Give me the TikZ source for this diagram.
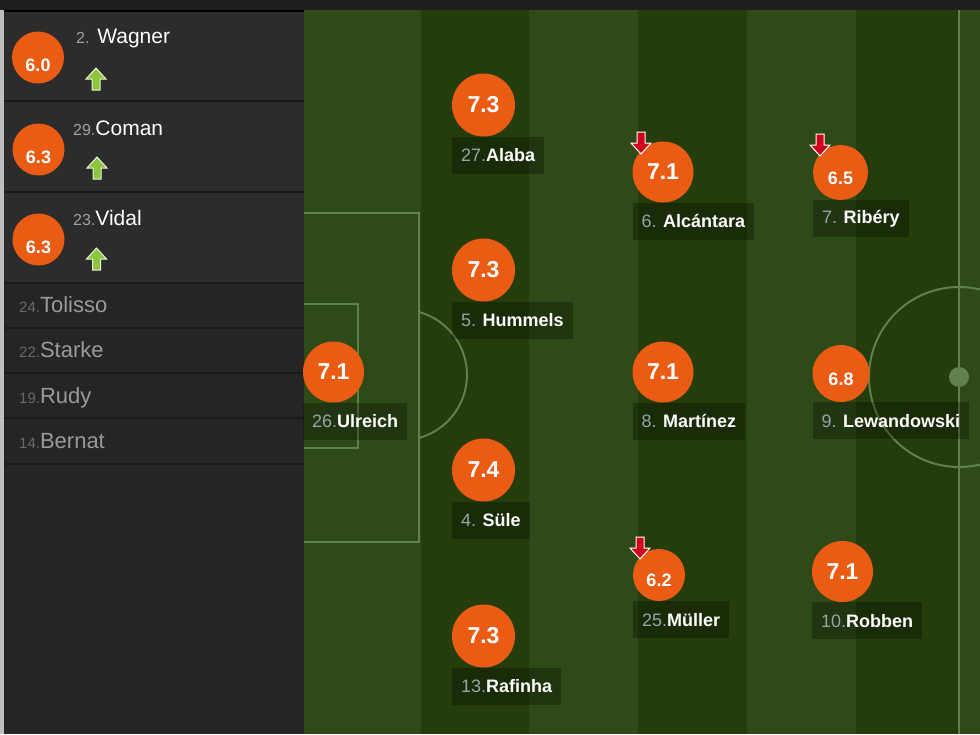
\documentclass[tikz,border=0pt]{standalone}
\usepackage{fontspec}
\setmainfont{Liberation Sans}
\usetikzlibrary{positioning}

\definecolor{topbar}{HTML}{1F1F1F}
\definecolor{panel}{HTML}{252525}
\definecolor{panelhi}{HTML}{2C2C2C}
\definecolor{rowline}{HTML}{1A1A1A}
\definecolor{grasslight}{HTML}{2E4A18}
\definecolor{grassdark}{HTML}{243D0B}
\definecolor{chalk}{HTML}{62804C}
\definecolor{rating}{HTML}{EA5B13}
\definecolor{numgray}{HTML}{9AA3A8}
\definecolor{benchname}{HTML}{9A9A9A}
\definecolor{benchnum}{HTML}{6A6A6A}
\definecolor{subred}{HTML}{D0021B}
\definecolor{subgreen}{HTML}{8CC63F}

\newcommand{\pnum}[1]{{\mdseries\color{numgray}#1}}
\newcommand{\bnum}[1]{{\fontsize{15}{15}\selectfont\color{benchnum}#1}}
% substitution arrows, drawn round a named coordinate
\newcommand{\subout}[1]{%
  \fill[subred,draw=white,line width=1pt,shift={(#1)}]
    (-4,-11) -- (4,-11) -- (4,0) -- (10,0) -- (0,11) -- (-10,0) -- (-4,0) -- cycle;}
\newcommand{\subin}[1]{%
  \fill[subgreen,draw=white!80!subgreen,line width=1pt,shift={(#1)}]
    (-4,11) -- (4,11) -- (4,0) -- (10,0) -- (0,-11) -- (-10,0) -- (-4,0) -- cycle;}

\begin{document}
\begin{tikzpicture}[x=1pt,y=-1pt,
  rate/.style={circle,fill=rating,text=white,inner sep=0pt,minimum size=61pt,
    font=\fontsize{23}{23}\selectfont\bfseries},
  ratesmall/.style={rate,minimum size=55pt,font=\fontsize{18}{18}\selectfont\bfseries,
    text height=23pt,text depth=0pt},
  ratebench/.style={ratesmall,minimum size=52pt,text height=28pt},
  tag/.style={anchor=north west,fill=black,fill opacity=0.28,text opacity=1,text=white,
    inner xsep=9pt,inner ysep=0pt,minimum height=37pt,font=\fontsize{18}{18}\selectfont\bfseries},
  subname/.style={anchor=base west,inner sep=0pt,text=white,font=\fontsize{21}{21}\selectfont},
  benchname/.style={anchor=base west,inner sep=0pt,text=benchname,font=\fontsize{22}{22}\selectfont},
  line/.style={chalk,line width=2pt}]
\useasboundingbox (0,0) rectangle (980,734);

% panel
\fill[topbar] (0,0) rectangle (980,10);
\fill[panel] (0,10) rectangle (304,734);
\fill[panelhi] (4,12) rectangle (304,283);
\fill[black] (0,10) rectangle (304,12);
\fill[white!75!black] (0,10) rectangle (4,734);
\draw[rowline,line width=2pt] (4,101) -- (304,101);
\draw[rowline,line width=2pt] (4,192) -- (304,192);
\draw[rowline,line width=2pt] (4,283) -- (304,283);
\draw[rowline,line width=1.5pt] (4,328) -- (304,328);
\draw[rowline,line width=1.5pt] (4,373) -- (304,373);
\draw[rowline,line width=1.5pt] (4,418) -- (304,418);
\draw[rowline,line width=1.5pt] (4,464) -- (304,464);

% pitch
\fill[grasslight] (304,10) rectangle (980,734);
\fill[grassdark] (421,10) rectangle (529,734);
\fill[grassdark] (638,10) rectangle (747,734);
\fill[grassdark] (856,10) rectangle (959,734);
\draw[line] (304,213) -- (419,213) -- (419,542) -- (304,542);
\draw[line] (304,304) -- (358,304) -- (358,448) -- (304,448);
\draw[line] (419,312) arc[start angle=74.6,end angle=-74.6,radius=65.3pt];
\draw[line] (959,10) -- (959,734);
\draw[line] (959,377) circle[radius=90pt];
\fill[chalk] (959,377) circle[radius=10pt];

% substitutes
\node[ratebench] (wagner-r) at (38,57.5) {6.0};
\node[subname] (wagner) at (76,43) {\pnum{\fontsize{16}{16}\selectfont 2.} Wagner};
\coordinate (wagner-in) at (96,79);
\subin{wagner-in}
\node[ratebench] (coman-r) at (38.5,149.5) {6.3};
\node[subname] (coman) at (73,135) {\pnum{\fontsize{16}{16}\selectfont 29.}Coman};
\coordinate (coman-in) at (97,168);
\subin{coman-in}
\node[ratebench] (vidal-r) at (38.5,239.5) {6.3};
\node[subname] (vidal) at (73,225) {\pnum{\fontsize{16}{16}\selectfont 23.}Vidal};
\coordinate (vidal-in) at (96.5,259);
\subin{vidal-in}

% bench
\node[benchname] (tolisso) at (19,312) {\bnum{24.}Tolisso};
\node[benchname] (starke) at (19,357) {\bnum{22.}Starke};
\node[benchname] (rudy) at (19,403) {\bnum{19.}Rudy};
\node[benchname] (bernat) at (19,448) {\bnum{14.}Bernat};

% starting eleven
\node[rate] (ulreich) at (333.5,372) {7.1};
\node[tag] (ulreich-t) at (ulreich.west |- ulreich.south) {\pnum{26.}Ulreich};
\node[rate,minimum size=63pt] (alaba) at (483.5,105) {7.3};
\node[tag] (alaba-t) at (alaba.west |- alaba.south) {\pnum{27.}Alaba};
\node[rate,minimum size=63pt] (hummels) at (483.5,270) {7.3};
\node[tag] (hummels-t) at (hummels.west |- hummels.south) {\pnum{5.} Hummels};
\node[rate,minimum size=63pt] (sule) at (483.5,470) {7.4};
\node[tag] (sule-t) at (sule.west |- sule.south) {\pnum{4.} Süle};
\node[rate,minimum size=63pt] (rafinha) at (483.5,636) {7.3};
\node[tag] (rafinha-t) at (rafinha.west |- rafinha.south) {\pnum{13.}Rafinha};
\node[rate] (alcantara) at (663,172) {7.1};
\node[tag] (alcantara-t) at (alcantara.west |- alcantara.south) {\pnum{6.} Alcántara};
\node[rate] (martinez) at (663,372) {7.1};
\node[tag] (martinez-t) at (martinez.west |- martinez.south) {\pnum{8.} Martínez};
\node[ratesmall,minimum size=52pt] (muller) at (659,575) {6.2};
\node[tag] (muller-t) at (muller.west |- muller.south) {\pnum{25.}Müller};
\node[ratesmall] (ribery) at (840.5,172.5) {6.5};
\node[tag] (ribery-t) at (ribery.west |- ribery.south) {\pnum{7.} Ribéry};
\node[ratesmall,minimum size=57pt] (lewandowski) at (841,373.5) {6.8};
\node[tag] (lewandowski-t) at (lewandowski.west |- lewandowski.south) {\pnum{9.} Lewandowski};
\node[rate] (robben) at (842.5,571.5) {7.1};
\node[tag] (robben-t) at (robben.west |- robben.south) {\pnum{10.}Robben};

% subbed off
\coordinate (alcantara-out) at (641,143);
\subout{alcantara-out}
\coordinate (ribery-out) at (820,145);
\subout{ribery-out}
\coordinate (muller-out) at (640,548);
\subout{muller-out}
\end{tikzpicture}
\end{document}
